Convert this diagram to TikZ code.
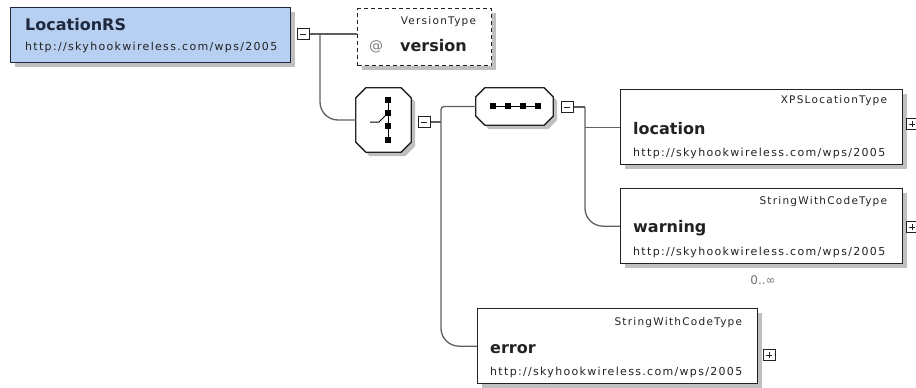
\documentclass[tikz,border=0pt]{standalone}
\usepackage{fontspec}
\setmainfont{DejaVu Sans}
\newfontfamily\typefamily[LetterSpace=12]{DejaVu Sans}
\newfontfamily\urlfamily[LetterSpace=12]{DejaVu Sans}
\usetikzlibrary{shadows,calc}

\definecolor{rootblue}{RGB}{183,207,240}
\definecolor{rootedge}{RGB}{30,40,62}
\definecolor{conngray}{RGB}{95,95,95}
\definecolor{inkdark}{RGB}{34,34,34}

% octagon round a node: node name, corner cut, x offset, y offset
\newcommand\octagonpath[4]{%
  ($(#1.north west)+(#2+#3,#4)$) -- ($(#1.north east)+(-#2+#3,#4)$) --
  ($(#1.north east)+(#3,#2+#4)$) -- ($(#1.south east)+(#3,-#2+#4)$) --
  ($(#1.south east)+(-#2+#3,#4)$) -- ($(#1.south west)+(#2+#3,#4)$) --
  ($(#1.south west)+(#3,-#2+#4)$) -- ($(#1.north west)+(#3,#2+#4)$) -- cycle}

\begin{document}
\begin{tikzpicture}[x=1pt,y=-1pt,
  boxshadow/.style={drop shadow={shadow xshift=4pt,shadow yshift=-4pt,fill=black!25,opacity=1}},
  elembox/.style={draw=inkdark,line width=1.3pt,fill=white,anchor=north west,inner sep=0,boxshadow},
  rootbox/.style={elembox,fill=rootblue,draw=rootedge},
  attrbox/.style={elembox,dash pattern=on 4pt off 3pt},
  compbase/.style={inner sep=0},
  compline/.style={draw=inkdark,line width=1.3pt,fill=white},
  compshadow/.style={fill=black!25},
  conn/.style={draw=conngray,line width=1.3pt},
  toggle/.style={draw=inkdark,line width=1pt,fill=white,minimum width=12pt,minimum height=11pt,inner sep=0},
  minusbox/.style={toggle,path picture={\draw[line width=1pt] (path picture bounding box.center) ++(-3pt,0) -- ++(6pt,0);}},
  plusbox/.style={toggle,path picture={\draw[line width=1pt] (path picture bounding box.center) ++(-3pt,0) -- ++(6pt,0)
      (path picture bounding box.center) ++(0,-3pt) -- ++(0,6pt);}},
  namelbl/.style={font=\bfseries\fontsize{16}{18}\selectfont,text=inkdark,anchor=base west,inner sep=0},
  typelbl/.style={font=\typefamily\fontsize{10.5}{12}\selectfont,text=inkdark,anchor=base east,inner sep=0},
  urllbl/.style={font=\urlfamily\fontsize{11}{13}\selectfont,text=inkdark,anchor=base west,inner sep=0},
  iconsq/.style={fill=black},
]
\useasboundingbox (0,0) rectangle (916,388);

% ---- root element LocationRS ----
\node[rootbox,minimum width=280pt,minimum height=55pt] (root) at (10,7) {};
\node[namelbl,text=rootedge] (rootN) at ($(root.north west)+(15,23)$) {LocationRS};
\node[urllbl] (rootU) at ($(root.north west)+(15,43)$) {http://skyhookwireless.com/wps/2005};
\node[minusbox] (rootT) at (303,34) {};

% ---- attribute version ----
\node[attrbox,minimum width=134pt,minimum height=57pt] (ver) at (357,8) {};
\node[typelbl] (verT) at ($(ver.north east)+(-16,16)$) {VersionType};
\node[font=\fontsize{14}{16}\selectfont,text=black!50,anchor=base west,inner sep=0] (verAt)
  at ($(ver.north west)+(12,42)$) {@};
\node[namelbl] (verN) at ($(ver.north west)+(43,43)$) {version};

% ---- choice compositor ----
\node[compbase,minimum width=55pt,minimum height=64pt] (choice) at (383.5,120) {};
\fill[compshadow] \octagonpath{choice}{10}{4}{4};
\filldraw[compline] \octagonpath{choice}{10}{0}{0};
\draw[line width=1pt] (388,100) -- (388,140);
\draw[line width=1pt] (370,122) -- (379,122) -- (388,113);
\foreach \yy in {100,113,126,140}
  \fill[iconsq] (388,\yy) +(-2.6,-2.6) rectangle +(2.6,2.6);
\node[minusbox] (chT) at (424,122) {};

% ---- sequence compositor ----
\node[compbase,minimum width=77pt,minimum height=37pt] (seq) at (514.5,106.5) {};
\fill[compshadow] \octagonpath{seq}{9}{4}{4};
\filldraw[compline] \octagonpath{seq}{9}{0}{0};
\draw[line width=1pt] (493,106) -- (538,106);
\foreach \xx in {493,508,523,538}
  \fill[iconsq] (\xx,106) +(-2.6,-2.6) rectangle +(2.6,2.6);
\node[minusbox] (seqT) at (567,107) {};

% ---- element location ----
\node[elembox,minimum width=282pt,minimum height=75pt] (loc) at (620,89) {};
\node[typelbl] (locT) at ($(loc.north east)+(-16,14)$) {XPSLocationType};
\node[namelbl] (locN) at ($(loc.north west)+(13,45)$) {location};
\node[urllbl] (locU) at ($(loc.north west)+(13,67)$) {http://skyhookwireless.com/wps/2005};
\node[plusbox] (locP) at (912,124) {};

% ---- element warning ----
\node[elembox,minimum width=282pt,minimum height=75pt] (warn) at (620,188) {};
\node[typelbl] (warnT) at ($(warn.north east)+(-16,16)$) {StringWithCodeType};
\node[namelbl] (warnN) at ($(warn.north west)+(13,44)$) {warning};
\node[urllbl] (warnU) at ($(warn.north west)+(13,67)$) {http://skyhookwireless.com/wps/2005};
\node[plusbox] (warnP) at (912,227) {};
\node[font=\fontsize{12}{14}\selectfont,text=black!55,inner sep=0] (warnOcc) at (763,280) {0..∞};

% ---- element error ----
\node[elembox,minimum width=280pt,minimum height=75pt] (err) at (477,308) {};
\node[typelbl] (errT) at ($(err.north east)+(-16,17)$) {StringWithCodeType};
\node[namelbl] (errN) at ($(err.north west)+(13,45)$) {error};
\node[urllbl] (errU) at ($(err.north west)+(13,67)$) {http://skyhookwireless.com/wps/2005};
\node[plusbox] (errP) at (769,355) {};

% ---- connectors ----
\coordinate (j1) at (320,34);
\draw[conn] (rootT.east) -- (ver.west |- rootT.east);
\draw[conn,rounded corners=18pt] (j1) |- (choice.west);

\coordinate (j2) at (441,122);
\draw[conn] (chT.east) -- (j2);
\draw[conn,rounded corners=3pt] (j2) |- (seq.west);
\draw[conn,rounded corners=18pt] (j2) |- (err.west);

\coordinate (j3) at (585,107);
\draw[conn] (seqT.east) -- (j3);
\draw[conn,rounded corners=18pt] (j3) |- (warn.west);
\draw[conn] (j3 |- loc.west) -- (loc.west);
\end{tikzpicture}
\end{document}
